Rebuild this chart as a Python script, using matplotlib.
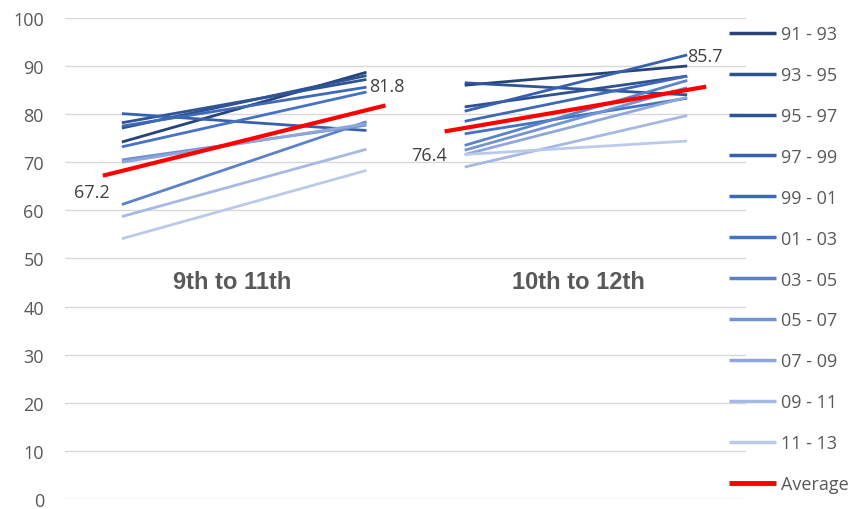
import matplotlib
matplotlib.use("Agg")
import matplotlib.pyplot as plt

# ---------------------------------------------------------------------------
# Data
# ---------------------------------------------------------------------------
COHORTS = ["91 - 93", "93 - 95", "95 - 97", "97 - 99", "99 - 01", "01 - 03",
           "03 - 05", "05 - 07", "07 - 09", "09 - 11", "11 - 13"]

# 9th -> 11th grade (start, end) per cohort
G1_START = [74.2, 77.1, 78.2, 80.1, 77.5, 73.2, 61.2, 70.5, 70.0, 58.7, 54.1]
G1_END = [88.7, 88.0, 87.2, 76.6, 85.6, 84.6, 78.4, 77.7, 78.0, 72.7, 68.3]

# 10th -> 12th grade (start, end) per cohort
G2_START = [86.0, 81.5, 86.5, 80.6, 78.5, 75.9, 73.5, 72.5, 71.6, 69.0, 71.6]
G2_END = [90.0, 87.9, 84.0, 92.3, 87.9, 83.3, 87.0, 85.5, 83.5, 79.7, 74.4]

AVG_G1 = [67.2, 81.8]
AVG_G2 = [76.4, 85.7]

GROUP_LABELS = ["9th to 11th", "10th to 12th"]

# category positions on the x axis
X_G1 = [2.85, 15.05]
X_G2 = [19.95, 31.05]
X_AVG_G1 = [1.9, 16.0]
X_AVG_G2 = [18.95, 32.0]
X_GROUP_LABELS = [8.34, 25.6]
Y_GROUP_LABEL = 45.3

COLORS = ["#264478", "#2d5193", "#2f5597", "#3761ad", "#3e68b8", "#4472c4",
          "#5a82cb", "#7393d3", "#8fa7db", "#a6b9e3", "#bccaea"]
RED = "#ff0000"
TEXT = "#595959"
FONT = "Open Sans"


def main() -> None:
    fig = plt.figure(figsize=(8.52, 5.10), dpi=100, facecolor="white")
    ax = fig.add_axes([0.076, 0.0196, 0.8, 0.9434])

    for i, name in enumerate(COHORTS):
        ax.plot(X_G1, [G1_START[i], G1_END[i]], color=COLORS[i], lw=2.0,
                solid_capstyle="butt", label=name)
        ax.plot(X_G2, [G2_START[i], G2_END[i]], color=COLORS[i], lw=2.0,
                solid_capstyle="butt")

    ax.plot(X_AVG_G1, AVG_G1, color=RED, lw=3.0, solid_capstyle="butt", label="Average")
    ax.plot(X_AVG_G2, AVG_G2, color=RED, lw=3.0, solid_capstyle="butt")

    # data labels on the average line
    lab_kw = dict(textcoords="offset points", fontsize=13, color="#404040",
                  family=FONT, va="center")
    ax.annotate(f"{AVG_G1[0]:.1f}", (X_AVG_G1[0], AVG_G1[0]), xytext=(5, -12),
                ha="right", **lab_kw)
    ax.annotate(f"{AVG_G1[1]:.1f}", (X_AVG_G1[1], AVG_G1[1]), xytext=(1, 14),
                ha="center", **lab_kw)
    ax.annotate(f"{AVG_G2[0]:.1f}", (X_AVG_G2[0], AVG_G2[0]), xytext=(2, -17),
                ha="right", **lab_kw)
    ax.annotate(f"{AVG_G2[1]:.1f}", (X_AVG_G2[1], AVG_G2[1]), xytext=(-1, 22),
                ha="center", **lab_kw)

    for x, txt in zip(X_GROUP_LABELS, GROUP_LABELS):
        ax.text(x, Y_GROUP_LABEL, txt, ha="center", va="center", fontsize=17,
                fontweight="bold", color=TEXT, family="Liberation Sans")

    ax.set_xlim(0, 34)
    ax.set_ylim(0, 100)
    ax.set_yticks(range(0, 101, 10))
    ax.set_xticks([])
    ax.tick_params(axis="y", length=0, pad=15, labelsize=13, labelcolor=TEXT)
    for lbl in ax.get_yticklabels():
        lbl.set_family(FONT)
    ax.grid(axis="y", color="#d9d9d9", lw=1.0)
    ax.set_axisbelow(True)
    for sp in ax.spines.values():
        sp.set_visible(False)

    leg = fig.legend(loc="center left", bbox_to_anchor=(729 / 852, 0.49),
                     frameon=False, borderpad=0, borderaxespad=0,
                     handlelength=2.6, handletextpad=0.3, labelspacing=1.27,
                     prop={"family": FONT, "size": 13})
    for t in leg.get_texts():
        t.set_color(TEXT)
    for h in leg.get_lines():
        h.set_linewidth(2.5)
    leg.get_lines()[-1].set_linewidth(3.5)

    fig.savefig("out.png", dpi=100, facecolor="white")


if __name__ == "__main__":
    main()
